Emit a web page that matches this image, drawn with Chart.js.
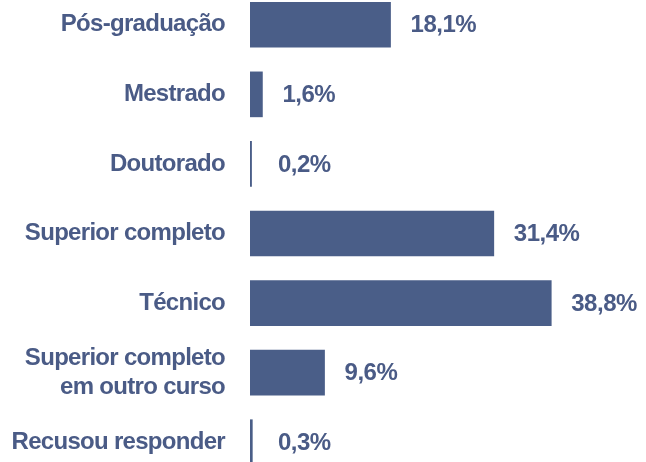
<!DOCTYPE html>
<html>
<head>
<meta charset="utf-8">
<script src="https://cdn.jsdelivr.net/npm/chart.js@4"></script>
<style>
    html, body { margin: 0; padding: 0; background: #fff; overflow: hidden; }
    #wrap { position: absolute; left: 0; top: -10px; width: 646px; height: 487px; }
</style>
</head>
<body>
<div id="wrap"><canvas id="escolaridade"></canvas></div>
<script>
const categories = [
    "Pós-graduação",
    "Mestrado",
    "Doutorado",
    "Superior completo",
    "Técnico",
    ["Superior completo", "em outro curso"],
    "Recusou responder"
];
const percentages = [18.1, 1.6, 0.2, 31.4, 38.8, 9.6, 0.3];
const valueLabels = ["18,1%", "1,6%", "0,2%", "31,4%", "38,8%", "9,6%", "0,3%"];

const blue = "#4a5e88";
const textBlue = "#4a5b86";
const fontFamily = "'Liberation Sans', Arial, sans-serif";

// tighter tracking, like the original type
const tracking = {
    id: "tracking",
    beforeLayout(chart) { chart.ctx.letterSpacing = "-0.7px"; },
    beforeDraw(chart) { chart.ctx.letterSpacing = "-0.7px"; }
};

// percentage text at the end of each bar
const barValues = {
    id: "barValues",
    afterDatasetsDraw(chart) {
        const ctx = chart.ctx;
        const meta = chart.getDatasetMeta(0);
        const left = chart.chartArea.left;
        ctx.save();
        ctx.letterSpacing = "-0.5px";
        ctx.font = "bold 24px " + fontFamily;
        ctx.fillStyle = textBlue;
        ctx.textAlign = "left";
        ctx.textBaseline = "middle";
        meta.data.forEach((bar, i) => {
            const x = Math.max(bar.x, left + 8) + 20;
            ctx.fillText(valueLabels[i], x, bar.y + 1);
        });
        ctx.restore();
    }
};

const ctx = document.getElementById("escolaridade").getContext("2d");
let chart = new Chart(ctx, {
    type: "bar",
    data: {
        labels: categories,
        datasets: [{
            data: percentages,
            backgroundColor: blue,
            borderWidth: 0,
            barThickness: 45
        }]
    },
    options: {
        indexAxis: "y",
        responsive: true,
        maintainAspectRatio: false,
        animation: false,
        layout: { padding: 0 },
        plugins: {
            legend: { display: false },
            tooltip: { enabled: false }
        },
        scales: {
            x: {
                display: false,
                min: 0,
                max: 51
            },
            y: {
                grid: { display: false, drawTicks: false },
                border: { display: false },
                afterFit(scale) {
                    scale.width = 250;
                    scale.paddingTop = 0;
                    scale.paddingBottom = 0;
                },
                ticks: {
                    padding: 25,
                    color: textBlue,
                    font: { family: fontFamily, size: 24, weight: "bold", lineHeight: 1.2 }
                }
            }
        }
    },
    plugins: [tracking, barValues]
});
</script>
</body>
</html>
